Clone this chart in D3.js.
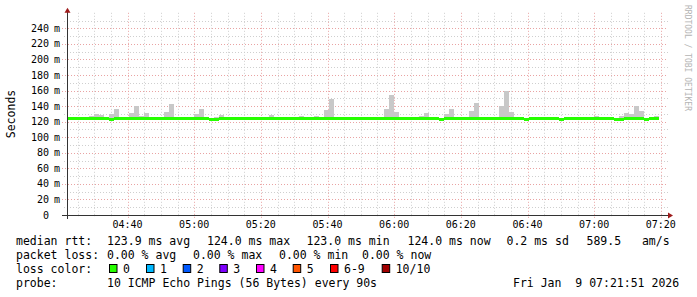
<!DOCTYPE html>
<html>
<head>
<meta charset="utf-8">
<script src="https://cdn.jsdelivr.net/npm/d3@7"></script>
<style>
  body { margin: 0; background: #fff; }
  svg { display: block; }
  text { font-family: "DejaVu Sans Mono", monospace; fill: #000; }
</style>
</head>
<body>
<div id="container"></div>
<script>
// time window of the graph and the 90 s ping steps
const start = new Date(Date.UTC(2026, 0, 9, 4, 21, 51))
const end = new Date(Date.UTC(2026, 0, 9, 7, 21, 51))
const firstStep = new Date(Date.UTC(2026, 0, 9, 4, 20, 57))
const stepSec = 90

// median rtt per step (ms)
const median = [
	124, 124, 124, 124, 124, 124, 124, 124, 124, 123,
	124, 124, 124, 124, 124, 124, 124, 124, 124, 124,
	124, 124, 124, 124, 124, 124, 124, 124, 124, 123,
	123, 124, 124, 124, 124, 124, 124, 124, 124, 124,
	124, 124, 124, 124, 124, 124, 124, 124, 124, 124,
	124, 124, 124, 124, 124, 124, 124, 124, 124, 124,
	124, 124, 124, 124, 124, 124, 124, 124, 124, 124,
	124, 124, 124, 124, 124, 123, 124, 124, 124, 124,
	124, 124, 124, 124, 124, 124, 124, 124, 124, 124,
	124, 124, 123, 124, 124, 124, 124, 124, 124, 123,
	124, 124, 124, 124, 124, 124, 124, 124, 124, 124,
	123, 123, 124, 124, 124, 124, 123, 124, 124,
]

// highest ping per step (ms), null = no smoke above median
const smokeTop = [
	null, null, null, null, null, 127.4, 130, 128.7, null, 130,
	136.4, null, null, 131.3, 140.3, 127.4, 131.3, null, null, null,
	132.6, 142.9, null, null, null, null, 130, 136.4, null, null,
	126, 128.7, 126, null, null, null, null, null, null, null,
	126, 128.7, null, null, null, null, null, 127.4, 126, 126,
	127.4, null, 135, 149.3, null, null, null, null, null, null,
	null, null, null, null, 136.4, 154.5, 132.6, null, null, null,
	null, 127.4, 131.3, null, null, null, 130, 136.4, null, 126,
	null, 133.9, 144.2, null, null, null, null, 140.3, 159.6, 132.6,
	null, null, null, null, null, null, null, null, null, null,
	null, null, null, null, null, 126, 127.4, null, null, null,
	null, 127.4, 131.3, 130, 140.3, 133.9, null, null, 127.4,
]

// denser smoke band [step index, top ms]
const denseSmoke = [[26, 126.5], [27, 126.5]]

const yTicks = [0, 20, 40, 60, 80, 100, 120, 140, 160, 180, 200, 220, 240]

const lossLabels = ["0", "1", "2", "3", "4", "5", "6-9", "10/10"]
const lossColors = ["#26ff00", "#00b8ff", "#0059ff", "#7e00ff", "#ff00ff", "#ff5500", "#ff0000", "#a10000"]
const swatchX = [109, 146, 182.7, 219.3, 256, 292.7, 330, 381.7]

const legendRows = [
	[["median rtt:", 16], ["123.9 ms avg", 107], ["124.0 ms max", 207], ["123.0 ms min", 306.5], ["124.0 ms now", 407.5], ["0.2 ms sd", 506.5], ["589.5   am/s", 586.5]],
	[["packet loss:", 16], ["0.00 % avg", 107], ["0.00 % max", 193], ["0.00 % min", 279], ["0.00 % now", 362]],
	[["loss color:", 16]],
	[["probe:", 16], ["10 ICMP Echo Pings (56 Bytes) every 90s", 107], ["Fri Jan  9 07:21:51 2026", 513]],
]

const width = 697
const height = 297
const plot = { left: 67, right: 667, top: 12.8, bottom: 215 }

const svg = d3.select("#container")
	.append("svg")
	.attr("width", width)
	.attr("height", height)

const x = d3.scaleUtc().domain([start, end]).range([plot.left, plot.right])
const y = d3.scaleLinear().domain([0, 260]).range([plot.bottom, plot.top])

const stepTime = i => new Date(firstStep.getTime() + i * stepSec * 1000)

svg.append("clipPath").attr("id", "clip")
	.append("rect")
	.attr("x", plot.left).attr("y", plot.top)
	.attr("width", plot.right - plot.left).attr("height", plot.bottom - plot.top)

// grid
const grid = svg.append("g").attr("stroke-dasharray", "1,2").attr("stroke-width", 1)
const minorY = d3.range(10, 260, 10).filter(v => v % 20 !== 0)
grid.selectAll(".hmin").data(minorY).join("line")
	.attr("x1", 64).attr("x2", plot.right + 1)
	.attr("y1", d => Math.round(y(d)) + 0.5).attr("y2", d => Math.round(y(d)) + 0.5)
	.attr("stroke", "#cfcfcf")
grid.selectAll(".hmaj").data(yTicks.slice(1)).join("line")
	.attr("x1", 62).attr("x2", plot.right + 1)
	.attr("y1", d => Math.round(y(d)) + 0.5).attr("y2", d => Math.round(y(d)) + 0.5)
	.attr("stroke", "#e9a3a3")

const minorX = x.ticks(d3.utcMinute.every(5)).filter(d => d.getUTCMinutes() % 20 !== 0)
const majorX = x.ticks(d3.utcMinute.every(20))
grid.selectAll(".vmin").data(minorX).join("line")
	.attr("x1", d => Math.round(x(d)) + 0.5).attr("x2", d => Math.round(x(d)) + 0.5)
	.attr("y1", plot.top).attr("y2", plot.bottom + 2)
	.attr("stroke", "#cfcfcf")
grid.selectAll(".vmaj").data(majorX).join("line")
	.attr("x1", d => Math.round(x(d)) + 0.5).attr("x2", d => Math.round(x(d)) + 0.5)
	.attr("y1", plot.top).attr("y2", plot.bottom + 4)
	.attr("stroke", "#e9a3a3")

// smoke
const marks = svg.append("g").attr("clip-path", "url(#clip)").attr("shape-rendering", "crispEdges")
const smoke = median.map((m, i) => ({ i, m, top: smokeTop[i] })).filter(d => d.top != null)
marks.selectAll(".smoke").data(smoke).join("rect")
	.attr("x", d => x(stepTime(d.i)))
	.attr("width", d => x(stepTime(d.i + 1)) - x(stepTime(d.i)))
	.attr("y", d => y(d.top))
	.attr("height", d => y(d.m) - y(d.top))
	.attr("fill", "#c8c8c8")
marks.selectAll(".dense").data(denseSmoke).join("rect")
	.attr("x", d => x(stepTime(d[0])))
	.attr("width", d => x(stepTime(d[0] + 1)) - x(stepTime(d[0])))
	.attr("y", d => y(d[1]))
	.attr("height", d => y(median[d[0]]) - y(d[1]))
	.attr("fill", "#a9a9a9")

// median line, coloured by loss (all 0 here)
marks.selectAll(".med").data(median).join("rect")
	.attr("x", (d, i) => x(stepTime(i)))
	.attr("width", (d, i) => x(stepTime(i + 1)) - x(stepTime(i)))
	.attr("y", d => y(d) - 1.2)
	.attr("height", 2.5)
	.attr("fill", lossColors[0])

// axes
const axisColor = "#333"
const arrowColor = "#9e1b1b"
svg.append("line")
	.attr("x1", 62).attr("x2", plot.right + 1)
	.attr("y1", plot.bottom + 0.5).attr("y2", plot.bottom + 0.5)
	.attr("stroke", axisColor)
svg.append("line")
	.attr("x1", plot.left + 0.5).attr("x2", plot.left + 0.5)
	.attr("y1", plot.top - 1).attr("y2", plot.bottom + 4)
	.attr("stroke", axisColor)
svg.append("path")
	.attr("d", `M${plot.right + 1},${plot.bottom - 2.5}L${plot.right + 6},${plot.bottom + 0.5}L${plot.right + 1},${plot.bottom + 3.5}Z`)
	.attr("fill", arrowColor)
svg.append("path")
	.attr("d", `M${plot.left - 2.5},${plot.top}L${plot.left + 0.5},${plot.top - 5}L${plot.left + 3.5},${plot.top}Z`)
	.attr("fill", arrowColor)

// y tick labels
const yl = svg.append("g").style("font-size", "10px")
yl.selectAll(".num").data(yTicks).join("text")
	.attr("x", 49).attr("y", d => y(d) + 3.5)
	.attr("text-anchor", "end")
	.text(d => d)
yl.selectAll(".unit").data(yTicks.slice(1)).join("text")
	.attr("x", 54).attr("y", d => y(d) + 3.5)
	.text("m")

// x tick labels
svg.append("g").style("font-size", "10px")
	.selectAll("text").data(majorX).join("text")
	.attr("x", d => x(d)).attr("y", 227.5)
	.attr("text-anchor", "middle")
	.text(d3.utcFormat("%H:%M"))

// titles
svg.append("text")
	.attr("transform", "translate(15,114) rotate(-90)")
	.attr("text-anchor", "middle")
	.style("font-size", "11.5px")
	.text("Seconds")
svg.append("text")
	.attr("transform", "translate(685,5) rotate(90)")
	.style("font-size", "8px")
	.style("fill", "#b4b4b4")
	.text("RRDTOOL / TOBI OETIKER")

// legend
const baselines = [245, 258.5, 272.5, 286.5]
const legend = svg.append("g").style("font-size", "11.5px")
legendRows.forEach((row, r) => {
	legend.selectAll(null).data(row).join("text")
		.attr("x", d => d[1]).attr("y", baselines[r])
		.attr("xml:space", "preserve")
		.style("white-space", "pre")
		.text(d => d[0])
})
const sw = legend.selectAll(".sw").data(lossLabels).join("g")
	.attr("transform", (d, i) => `translate(${swatchX[i]},0)`)
sw.append("rect")
	.attr("x", 0.5).attr("y", 264.5).attr("width", 7.5).attr("height", 8)
	.attr("fill", (d, i) => lossColors[i])
	.attr("stroke", "#000")
sw.append("text")
	.attr("x", 14).attr("y", baselines[2])
	.text(d => d)
</script>
</body>
</html>
